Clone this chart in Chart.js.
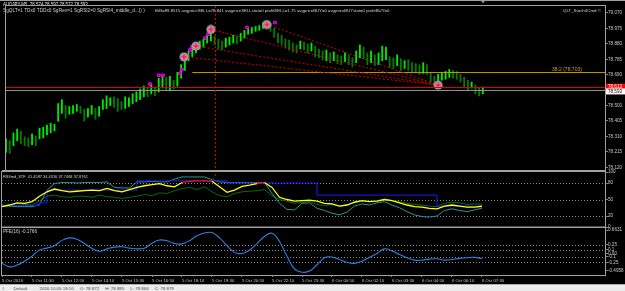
<!DOCTYPE html>
<html>
<head>
<meta charset="utf-8">
<script src="https://cdn.jsdelivr.net/npm/chart.js@4.4.0/dist/chart.umd.min.js"></script>
<style>
  html, body { margin: 0; padding: 0; background: #000; }
  #wrap { position: relative; width: 625px; height: 291px; overflow: hidden; background: #000; }
  #wrap canvas { position: absolute; left: 0; top: 0; }
  #status { position: absolute; left: 0; top: 284px; width: 625px; height: 7px; background: #ececec;
            border-top: 1px solid #b0b0b0; font: 4.4px 'Liberation Sans', Arial, sans-serif; color: #444;
            line-height: 7px; white-space: pre; }
</style>
</head>
<body>
<div id="wrap">
  <canvas id="mainChart" width="625" height="291"></canvas>
  <canvas id="rsiChart" width="625" height="291"></canvas>
  <canvas id="pfeChart" width="625" height="291"></canvas>
  <div id="status">  I        Default          2016.10.05 18:10     O: 78.872     H: 78.885     L: 78.866     C: 78.879</div>
</div>
<script>
// ---- chart data (AUDJPY M5) ----
// one bar every 10 minutes, first bar = 5 Oct 10:10
const barHigh = [
  78.295, 78.283, 78.331, 78.355, 78.343, 78.307, 78.301, 78.325, 78.313, 78.361,
  78.367, 78.379, 78.391, 78.385, 78.512, 78.536, 78.500, 78.494, 78.500, 78.506,
  78.494, 78.476, 78.482, 78.500, 78.482, 78.494, 78.536, 78.560, 78.548, 78.554,
  78.542, 78.524, 78.554, 78.548, 78.572, 78.584, 78.602, 78.620, 78.608, 78.632,
  78.608, 78.668, 78.686, 78.674, 78.680, 78.656, 78.704, 78.752, 78.794, 78.836,
  78.860, 78.873, 78.897, 78.909, 78.933, 78.945, 78.927, 78.909, 78.897, 78.915,
  78.921, 78.933, 78.927, 78.945, 78.963, 78.981, 78.981, 78.987, 78.993, 79.011,
  79.023, 79.005, 78.975, 78.945, 78.933, 78.909, 78.903, 78.885, 78.873, 78.897,
  78.891, 78.879, 78.885, 78.866, 78.848, 78.836, 78.842, 78.824, 78.830, 78.812,
  78.806, 78.824, 78.812, 78.794, 78.836, 78.873, 78.860, 78.824, 78.836, 78.812,
  78.824, 78.866, 78.860, 78.800, 78.794, 78.812, 78.788, 78.776, 78.782, 78.764,
  78.758, 78.752, 78.764, 78.752, 78.704, 78.680, 78.692, 78.704, 78.710, 78.722,
  78.716, 78.710, 78.692, 78.674, 78.656, 78.644, 78.626, 78.608, 78.614
];
const barLow = [
  78.211, 78.205, 78.253, 78.283, 78.265, 78.253, 78.247, 78.259, 78.253, 78.295,
  78.301, 78.319, 78.331, 78.343, 78.403, 78.452, 78.422, 78.446, 78.452, 78.464,
  78.452, 78.403, 78.428, 78.446, 78.416, 78.434, 78.476, 78.482, 78.500, 78.488,
  78.464, 78.476, 78.482, 78.494, 78.512, 78.524, 78.536, 78.554, 78.554, 78.572,
  78.560, 78.584, 78.608, 78.596, 78.590, 78.602, 78.620, 78.668, 78.716, 78.776,
  78.800, 78.824, 78.848, 78.860, 78.885, 78.897, 78.873, 78.848, 78.842, 78.860,
  78.873, 78.885, 78.879, 78.897, 78.915, 78.939, 78.945, 78.957, 78.963, 78.975,
  78.987, 78.957, 78.921, 78.885, 78.873, 78.854, 78.842, 78.830, 78.824, 78.848,
  78.842, 78.824, 78.836, 78.800, 78.794, 78.782, 78.776, 78.764, 78.776, 78.758,
  78.752, 78.770, 78.752, 78.740, 78.764, 78.794, 78.788, 78.752, 78.764, 78.746,
  78.752, 78.776, 78.782, 78.734, 78.728, 78.746, 78.716, 78.728, 78.716, 78.704,
  78.704, 78.692, 78.698, 78.692, 78.644, 78.626, 78.638, 78.656, 78.662, 78.674,
  78.668, 78.662, 78.644, 78.608, 78.596, 78.608, 78.572, 78.560, 78.572
];

// signal circles (bar index in 5-min bars, price); the last one is where the fan lines meet
const circleIdx = [95.6, 102, 110, 140, 232];
const circlePrice = [78.800, 78.866, 78.969, 78.999, 78.626];
// small magenta squares
const squareIdx = [77.3, 82.1, 84.3, 93.4, 94.5, 97.2, 98.8, 99.9, 106.8, 108.5, 129.4, 144.4];
const squarePrice = [78.632, 78.686, 78.686, 78.698, 78.722, 78.806, 78.842, 78.860, 78.915, 78.939, 78.981, 79.011];

const fibLevel = 78.703;
const fibStartIdx = 100;
const fibLabel = "38.2 (78.703)";
const askPrice = 78.613;
const bidPrice = 78.593;
const vLineIdx = 112;

const priceTicks = [79.070, 78.975, 78.880, 78.785, 78.690, 78.595, 78.500, 78.405, 78.310, 78.215, 78.120];

// RSI pane, one value every 20 minutes
const rsiYellow = [37, 40, 44, 43, 46, 56, 64, 69, 66, 64, 65, 66, 67, 66, 70, 66, 64, 68, 72, 75,
  77, 79, 75, 73, 81, 83, 84, 84, 83, 73, 63, 67, 74, 76, 79, 81, 72, 54, 50, 47,
  48, 49, 47, 43, 42, 38, 40, 45, 48, 46, 47, 50, 48, 44, 40, 37, 36, 34, 33, 38,
  40, 38, 36, 36, 37.7];
const rsiTeal = [40, 38, 37, 37, 37, 41, 67, 79, 81, 81, 80, 81, 81, 81, 82, 72, 71, 71, 82, 82,
  83, 82, 82, 87, 91, 91, 91, 91, 86, 82, 81, 81, 81, 81, 81, 81, 61, 43, 32, 31,
  43, 44, 34, 30, 25, 22, 27, 38, 42, 40, 44, 46, 40, 35, 28, 22, 19, 18, 20, 30,
  33, 30, 28, 31, 34.4];
const rsiBlue = [39, 39, 39, 39, 39, 44, 67, 67, 67, 67, 67, 67, 67, 67, 67, 67, 67, 67, 84, 84,
  84, 84, 84, 84, 84, 84, 84, 84, 84, 84, 80, 80, 80, 80, 80, 80, 80, 80, 80, 80,
  80, 80, 58, 58, 58, 58, 58, 58, 58, 58, 58, 58, 58, 58, 58, 58, 58, 58, 37.9, 37.9,
  37.9, 37.9, 37.9, 37.9, 37.9];
const rsiGreen = [37, 39, 43, 41, 40, 47, 56, 58, 55, 54, 56, 56, 54, 58, 55, 54, 52, 54, 56, 59,
  57, 62, 61, 66, 70, 72, 68, 73, 64, 57, 55, 61, 64, 65, 66, 68, 57, 50, 47, 43,
  45, 47, 41, 39, 41, 38, 40, 45, 47, 46, 48, 50, 48, 46, 43, 41, 40, 38, 37, 43,
  45, 44, 41, 42, 41.5];
const rsiTicks = [100, 80, 50, 20, 0];
const rsiLevels = [80, 50, 20];

// PFE(16) pane, one value every 20 minutes
const pfeValues = [-0.28, -0.38, -0.33, -0.22, -0.08, 0.10, 0.15, 0.22, 0.37, 0.44,
  0.40, 0.28, 0.14, 0.06, 0.13, 0.18, 0.19, 0.15, 0.13, 0.15,
  0.29, 0.38, 0.36, 0.28, 0.27, 0.36, 0.50, 0.58, 0.59, 0.44,
  0.22, 0.03, 0.00, 0.09, 0.28, 0.48, 0.57, 0.34, -0.08, -0.44,
  -0.53, -0.50, -0.32, -0.12, -0.10, -0.17, -0.25, -0.28, -0.22, -0.11,
  0.00, 0.13, 0.07, -0.03, -0.12, -0.19, -0.19, -0.16, -0.15, -0.19,
  -0.17, -0.14, -0.12, -0.11, -0.15];
const pfeTicks = [0.6631, 0.25, 0.1, 0, -0.1, -0.25, -0.4958];
const pfeTickLabels = ["0.6631", "0.25", "0.1", "0.00", "-0.1", "-0.25", "-0.4958"];
const pfeLevels = [0.25, 0.1, -0.1, -0.25];

const dateLabels = ["5 Oct 2016", "5 Oct 11:30", "5 Oct 12:50", "5 Oct 14:10", "5 Oct 15:30",
  "5 Oct 16:50", "5 Oct 18:10", "5 Oct 19:30", "5 Oct 20:50", "5 Oct 22:10", "5 Oct 23:30",
  "6 Oct 00:50", "6 Oct 02:10", "6 Oct 03:30", "6 Oct 04:50", "6 Oct 06:10", "6 Oct 07:30"];

// ---- look ----
const FONT = "'Liberation Sans', Arial, sans-serif";
const X_MAX = 321.6;
const AXIS_TXT = '#c8c8c8';
const FRAME = '#a0a0a0';

Chart.defaults.font.family = FONT;
Chart.defaults.color = AXIS_TXT;

function fitText(ctx, text, x, y, width, color) {
  ctx.save();
  ctx.font = '10px ' + FONT;
  const size = 10 * width / ctx.measureText(text).width;
  ctx.font = size.toFixed(2) + 'px ' + FONT;
  ctx.fillStyle = color;
  ctx.textBaseline = 'middle';
  ctx.textAlign = 'left';
  ctx.fillText(text, x, y);
  ctx.restore();
}

function hLine(ctx, area, y, color, dash) {
  ctx.save();
  ctx.strokeStyle = color;
  ctx.lineWidth = 1;
  ctx.setLineDash(dash || []);
  ctx.beginPath();
  ctx.moveTo(area.left, Math.round(y) + 0.5);
  ctx.lineTo(area.right, Math.round(y) + 0.5);
  ctx.stroke();
  ctx.restore();
}

function frame(ctx, area) {
  ctx.save();
  ctx.strokeStyle = FRAME;
  ctx.lineWidth = 1;
  ctx.strokeRect(area.left - 0.5, area.top - 0.5, area.right - area.left + 1, area.bottom - area.top + 1);
  ctx.restore();
}

function xAxis(show) {
  return {
    type: 'linear', min: 0, max: X_MAX, display: show, offset: false,
    grid: { display: false, offset: false }
  };
}

function yAxis(min, max, values, labelFn) {
  return {
    type: 'linear', position: 'right', min: min, max: max,
    border: { display: false },
    grid: { drawOnChartArea: false, drawTicks: true, tickLength: 3, color: '#808080' },
    ticks: { font: { size: 4.6 }, color: AXIS_TXT, padding: 0, autoSkip: false,
             callback: labelFn },
    afterBuildTicks: s => { s.ticks = values.map(v => ({ value: v })); },
    afterFit: s => { s.width = 20; }
  };
}

const baseOptions = (padTop, padBottom) => ({
  responsive: false,
  animation: false,
  devicePixelRatio: 1,
  layout: { padding: { left: 2, right: 0, top: padTop, bottom: padBottom } },
  plugins: { legend: { display: false }, tooltip: { enabled: false } },
  elements: { point: { radius: 0 }, line: { borderWidth: 1 } }
});

// circle marker image
const circleImg = document.createElement('canvas');
circleImg.width = 10; circleImg.height = 10;
(function () {
  const c = circleImg.getContext('2d');
  c.fillStyle = '#9a9a9a';
  c.beginPath(); c.arc(5, 5, 4.6, 0, Math.PI * 2); c.fill();
  c.fillStyle = '#ff70d0';
  c.beginPath(); c.arc(5, 5, 2.6, 0, Math.PI * 2); c.fill();
  c.strokeStyle = '#ff0000'; c.lineWidth = 1;
  c.beginPath(); c.moveTo(5, 2.5); c.lineTo(5, 7.5); c.moveTo(2.5, 5); c.lineTo(7.5, 5); c.stroke();
})();

// ---- main price pane ----
const barColors = barHigh.map((h, i) => {
  if (i === 0) return '#00e000';
  return (h + barLow[i]) >= (barHigh[i - 1] + barLow[i - 1]) ? '#00e800' : '#067806';
});

const fanSets = [0, 1, 2, 3].map(k => ({
  type: 'line',
  data: [{ x: circleIdx[k], y: circlePrice[k] }, { x: circleIdx[4], y: circlePrice[4] }],
  borderColor: '#d00000', borderWidth: 1, borderDash: [2, 2], pointRadius: 0, order: 3
}));

const mainDecor = {
  id: 'mainDecor',
  afterDatasetsDraw(chart) {
    const { ctx, chartArea: a, scales: { x, y } } = chart;
    hLine(ctx, a, y.getPixelForValue(askPrice), '#e00000');
    hLine(ctx, a, y.getPixelForValue(bidPrice), '#909090');
    // vertical dotted marker
    const vx = Math.round(x.getPixelForValue(vLineIdx)) + 0.5;
    ctx.save();
    ctx.strokeStyle = '#d00000'; ctx.setLineDash([2, 2]); ctx.lineWidth = 1;
    ctx.beginPath(); ctx.moveTo(vx, a.top); ctx.lineTo(vx, a.bottom + 8); ctx.stroke();
    ctx.restore();
  },
  afterDraw(chart) {
    const { ctx, chartArea: a, scales: { y } } = chart;
    // fib label
    const fy = y.getPixelForValue(fibLevel);
    fitText(ctx, fibLabel, 552, fy - 3, 30, '#d4a000');
    // titles
    fitText(ctx, "AUDJPY,M5  78.574 78.597 78.572 78.593", 3, 5, 85, '#e8e8e8');
    fitText(ctx, "SgQLT=1 TDx0 TDDx0 SgFlex=1 SgRSI2=0 SgRSI4_middle_d...() )", 3, 11, 142, '#d0d0d0');
    fitText(ctx, "BrB=89.8515 avgpriceSELL=78.841 avgpriceSELLstat=0 profitSELL=1.75 avgpriceBUY=0 avgpriceBUYstat=0 profitBUY=0",
            155, 11, 235, '#d0d0d0');
    fitText(ctx, "QLT_Stoch4Cmd \u00a9", 563, 11, 38, '#d0d0d0');
    // price boxes on the axis
    const ay = y.getPixelForValue(askPrice), by = y.getPixelForValue(bidPrice);
    ctx.fillStyle = '#ff0000'; ctx.fillRect(606, ay - 3.5, 19, 6);
    fitText(ctx, askPrice.toFixed(3), 608, ay - 0.5, 14, '#ffffff');
    ctx.fillStyle = '#ffffff'; ctx.fillRect(606, by - 2, 19, 6);
    fitText(ctx, bidPrice.toFixed(3), 608, by + 1, 14, '#000000');
    frame(ctx, a);
    ctx.fillStyle = FRAME; ctx.fillRect(0, 0, 625, 1);
    // chart shift marker
    ctx.fillStyle = '#909090';
    ctx.beginPath(); ctx.moveTo(481, 1); ctx.lineTo(485, 1); ctx.lineTo(483, 3.5); ctx.fill();
  }
};

new Chart(document.getElementById('mainChart'), {
  type: 'bar',
  data: {
    datasets: [
      {
        type: 'bar',
        data: barHigh.map((h, i) => ({ x: i * 2, y: [barLow[i], h] })),
        backgroundColor: barColors, barThickness: 1.2, order: 10
      },
      {
        type: 'line',
        data: [{ x: fibStartIdx, y: fibLevel }, { x: X_MAX, y: fibLevel }],
        borderColor: '#c89b00', borderWidth: 1, pointRadius: 0, order: 5
      },
      ...fanSets,
      {
        type: 'scatter',
        data: squareIdx.map((v, i) => ({ x: v, y: squarePrice[i] })),
        pointStyle: 'rect', pointRadius: 1.8, borderWidth: 1,
        borderColor: '#ff00ff', backgroundColor: '#7a007a', order: 2
      },
      {
        type: 'scatter',
        data: circleIdx.map((v, i) => ({ x: v, y: circlePrice[i] })),
        pointStyle: circleImg, pointRadius: 5, order: 1
      }
    ]
  },
  options: Object.assign(baseOptions(2, 121), {
    scales: {
      x: xAxis(false),
      y: yAxis(78.103, 79.113, priceTicks, v => v.toFixed(3))
    }
  }),
  plugins: [mainDecor]
});

// ---- RSI pane ----
const rsiDecor = {
  id: 'rsiDecor',
  beforeDatasetsDraw(chart) {
    const { ctx, chartArea: a, scales: { y } } = chart;
    rsiLevels.forEach(v => hLine(ctx, a, y.getPixelForValue(v), '#8a8a8a', [1, 2]));
  },
  afterDraw(chart) {
    const { ctx, chartArea: a } = chart;
    fitText(ctx, "RSIfmd_STF  41.4587 34.4316 37.7468 37.8761", 3, 176.5, 85, '#d0d0d0');
    frame(ctx, a);
    ctx.fillStyle = FRAME; ctx.fillRect(2, 170, 603, 1.5);
  }
};

const pts = arr => arr.map((v, i) => ({ x: i * 4, y: v }));

new Chart(document.getElementById('rsiChart'), {
  type: 'line',
  data: {
    datasets: [
      { data: pts(rsiYellow), borderColor: '#ffff00', borderWidth: 1.3,
        segment: { borderColor: c => (c.p0.parsed.y >= 79 && c.p1.parsed.y >= 79) ? '#ff1010' : undefined } },
      { data: pts(rsiBlue), borderColor: '#1a1aff', stepped: 'before' },
      { data: pts(rsiTeal), borderColor: '#2a9494' },
      { data: pts(rsiGreen), borderColor: '#0a6a0a' }
    ]
  },
  options: Object.assign(baseOptions(172, 64), {
    scales: {
      x: xAxis(false),
      y: yAxis(0, 100, rsiTicks, v => String(v))
    }
  }),
  plugins: [rsiDecor]
});

// ---- PFE pane ----
const pfeDecor = {
  id: 'pfeDecor',
  beforeDatasetsDraw(chart) {
    const { ctx, chartArea: a, scales: { y } } = chart;
    pfeLevels.forEach(v => hLine(ctx, a, y.getPixelForValue(v), '#8a8a8a', [1, 2]));
  },
  afterDraw(chart) {
    const { ctx, chartArea: a } = chart;
    fitText(ctx, "PFE(16) -0.1766", 3, 232, 34, '#d0d0d0');
    frame(ctx, a);
    ctx.fillStyle = FRAME; ctx.fillRect(2, 226.5, 603, 1.5);
  }
};

new Chart(document.getElementById('pfeChart'), {
  type: 'line',
  data: {
    datasets: [
      { data: pts(pfeValues), borderColor: '#2f80e0', borderWidth: 1.1, tension: 0.4 }
    ]
  },
  options: Object.assign(baseOptions(228, 6), {
    scales: {
      x: {
        type: 'linear', min: 0, max: X_MAX, display: true,
        border: { display: false },
        grid: { drawOnChartArea: false, drawTicks: true, tickLength: 2, color: '#808080' },
        ticks: { font: { size: 4.3 }, color: AXIS_TXT, padding: 1, align: 'start',
                 maxRotation: 0, autoSkip: false, callback: (v, i) => dateLabels[i] },
        afterBuildTicks: s => { s.ticks = dateLabels.map((_, i) => ({ value: i * 16 })); },
        afterFit: s => { s.height = 10; }
      },
      y: yAxis(-0.61, 0.72, pfeTicks, (v, i) => pfeTickLabels[i])
    }
  }),
  plugins: [pfeDecor]
});
</script>
</body>
</html>
